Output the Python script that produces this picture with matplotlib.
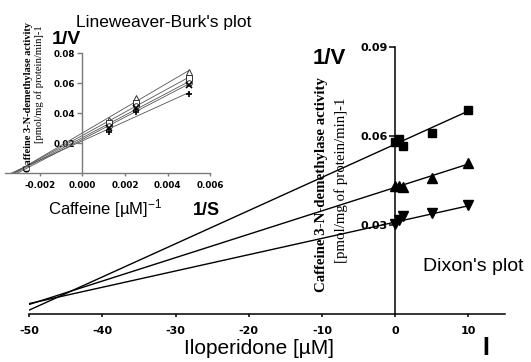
import matplotlib
matplotlib.use("Agg")
import matplotlib.pyplot as plt
import numpy as np

plt.rcParams['axes.unicode_minus'] = False
plt.rcParams['mathtext.default'] = 'regular'

# ---------------- Dixon plot data ----------------
iloperidone = [0, 0.5, 1, 5, 10]
dixon_sq = [0.058, 0.0591, 0.0566, 0.0611, 0.069]
dixon_up = [0.0431, 0.0433, 0.0428, 0.0460, 0.0510]
dixon_dn = [0.0302, 0.0318, 0.0330, 0.0341, 0.0366]
dixon_fit_slope = [0.00112, 0.00079, 0.00055]
dixon_fit_intercept = [0.0573, 0.0427, 0.0310]
dixon_line_range = [-50, 10]
dixon_xticks = [-50, -40, -30, -20, -10, 0, 10]
dixon_xticklabels = ['-50', '-40', '-30', '-20', '-10', '0', '10']
dixon_yticks = [0.03, 0.06, 0.09]
dixon_yticklabels = ['0.03', '0.06', '0.09']

# ---------------- Lineweaver-Burk data ----------------
inv_caffeine = [0.00125, 0.0025, 0.005]
lb_tri = [0.0355, 0.0504, 0.0677]
lb_sq = [0.0333, 0.0471, 0.0633]
lb_circ = [0.0315, 0.0449, 0.0604]
lb_x = [0.0304, 0.0433, 0.0589]
lb_plus = [0.0277, 0.0407, 0.0529]
lb_line_range = [-0.0036, 0.005]
lb_xticks = [-0.002, 0.0, 0.002, 0.004, 0.006]
lb_xticklabels = ['-0.002', '0.000', '0.002', '0.004', '0.006']
lb_yticks = [0.02, 0.04, 0.06, 0.08]
lb_yticklabels = ['0.02', '0.04', '0.06', '0.08']

W, H = 531, 362
fig = plt.figure(figsize=(W / 100, H / 100), dpi=100)


def px(x, y):
    return x / W, 1 - y / H


# ---------------- main axes ----------------
ax = fig.add_axes([29.3 / W, 1 - 313.9 / H, (505 - 29.3) / W, (313.9 - 47.3) / H])
ax.patch.set_alpha(0)
ax.set_xlim(-50, 15)
ax.set_ylim(0, 0.09)
for s in ['top', 'right']:
    ax.spines[s].set_visible(False)
ax.spines['left'].set_position(('data', 0))
ax.spines['bottom'].set_position(('data', 0))
for s in ['left', 'bottom']:
    ax.spines[s].set_linewidth(1.1)
ax.set_xticks(dixon_xticks)
ax.set_xticklabels(dixon_xticklabels)
ax.set_yticks(dixon_yticks)
ax.set_yticklabels(dixon_yticklabels)
ax.tick_params(axis='x', direction='out', length=2.4, width=1.1, pad=6)
ax.tick_params(axis='y', direction='out', length=4, width=1.1, pad=1.5)
for lab in ax.get_xticklabels() + ax.get_yticklabels():
    lab.set_fontfamily('DejaVu Sans')
    lab.set_fontweight('bold')
    lab.set_fontsize(8)

xr = np.array(dixon_line_range, dtype=float)
for k in range(3):
    ax.plot(xr, dixon_fit_slope[k] * xr + dixon_fit_intercept[k], color='black', lw=1.0, zorder=3)
ax.plot(iloperidone, dixon_sq, 's', color='black', ms=6, zorder=4, clip_on=False)
ax.plot(iloperidone, dixon_up, '^', color='black', ms=6.5, zorder=4, clip_on=False)
ax.plot(iloperidone, dixon_dn, 'v', color='black', ms=6.5, zorder=4, clip_on=False)

# ---------------- inset axes ----------------
ax2 = fig.add_axes([5.4 / W, 1 - 173.3 / H, (210.4 - 5.4) / W, 120 / H])
ax2.patch.set_alpha(0)
ax2.set_xlim(-0.0036, 0.006)
ax2.set_ylim(0, 0.08)
for s in ['top', 'right']:
    ax2.spines[s].set_visible(False)
ax2.spines['left'].set_position(('data', 0))
ax2.spines['bottom'].set_position(('data', 0))
gray = '#7a7a7a'
for s in ['left', 'bottom']:
    ax2.spines[s].set_color(gray)
    ax2.spines[s].set_linewidth(1.0)
ax2.set_xticks(lb_xticks)
ax2.set_xticklabels(lb_xticklabels)
ax2.set_yticks(lb_yticks)
ax2.set_yticklabels(lb_yticklabels)
ax2.tick_params(axis='x', direction='out', length=2, width=1.0, color=gray, pad=3.5)
ax2.tick_params(axis='y', direction='out', length=3.5, width=1.0, color=gray, pad=1.5)
for lab in ax2.get_xticklabels() + ax2.get_yticklabels():
    lab.set_fontfamily('DejaVu Sans')
    lab.set_fontweight('bold')
    lab.set_fontsize(6.3)

xl = np.array(lb_line_range, dtype=float)
series = [(lb_tri, '^'), (lb_sq, 's'), (lb_circ, 'o'), (lb_x, 'x'), (lb_plus, '+')]
for ys, mk in series:
    b1, b0 = np.polyfit(inv_caffeine, ys, 1)
    ax2.plot(xl, b1 * xl + b0, color='#555555', lw=0.6, zorder=2)
for ys, mk in series:
    if mk in ('x', '+'):
        ax2.plot(inv_caffeine, ys, mk, color='black', ms=4, mew=1.2, zorder=3)
    else:
        ax2.plot(inv_caffeine, ys, mk, mfc='white', mec='#333333', ms=4, mew=0.7, zorder=3)

# ---------------- texts ----------------
sans = 'Liberation Sans'
serif = 'Liberation Serif'
fig.text(*px(329, 58), '1/V', ha='center', va='center', fontsize=16, fontweight='bold', family=sans)
fig.text(*px(66.7, 39.7), '1/V', ha='center', va='center', fontsize=14, fontweight='bold', family=sans)
fig.text(*px(76, 27), "Lineweaver-Burk's plot", ha='left', va='baseline', fontsize=12.5, family=sans)
fig.text(*px(48, 214), 'Caffeine [µM]$^{-1}$', ha='left', va='baseline', fontsize=12, family=sans)
fig.text(*px(193, 215), '1/S', ha='left', va='baseline', fontsize=13, fontweight='bold', family=sans)
fig.text(*px(259, 354), 'Iloperidone [µM]', ha='center', va='baseline', fontsize=15, family=sans)
fig.text(*px(486, 355), 'I', ha='center', va='baseline', fontsize=18, fontweight='bold', family=sans)
fig.text(*px(423, 271), "Dixon's plot", ha='left', va='baseline', fontsize=14, family=sans)

fig.text(*px(321, 184.5), 'Caffeine 3-N-demethylase activity', rotation=90, ha='center', va='center',
         fontsize=10.7, fontweight='bold', family=serif, zorder=1)
fig.text(*px(341, 180), '[pmol/mg of protein/min]-1', rotation=90, ha='center', va='center',
         fontsize=10.7, family=serif, zorder=1)
fig.text(*px(28.3, 96.7), 'Caffeine 3-N-demethylase activity', rotation=90, ha='center', va='center',
         fontsize=7.5, fontweight='bold', family=serif)
fig.text(*px(39, 84), '[pmol/mg of protein/min]-1', rotation=90, ha='center', va='center',
         fontsize=7.6, family=serif)

fig.savefig('out.png', dpi=100)
